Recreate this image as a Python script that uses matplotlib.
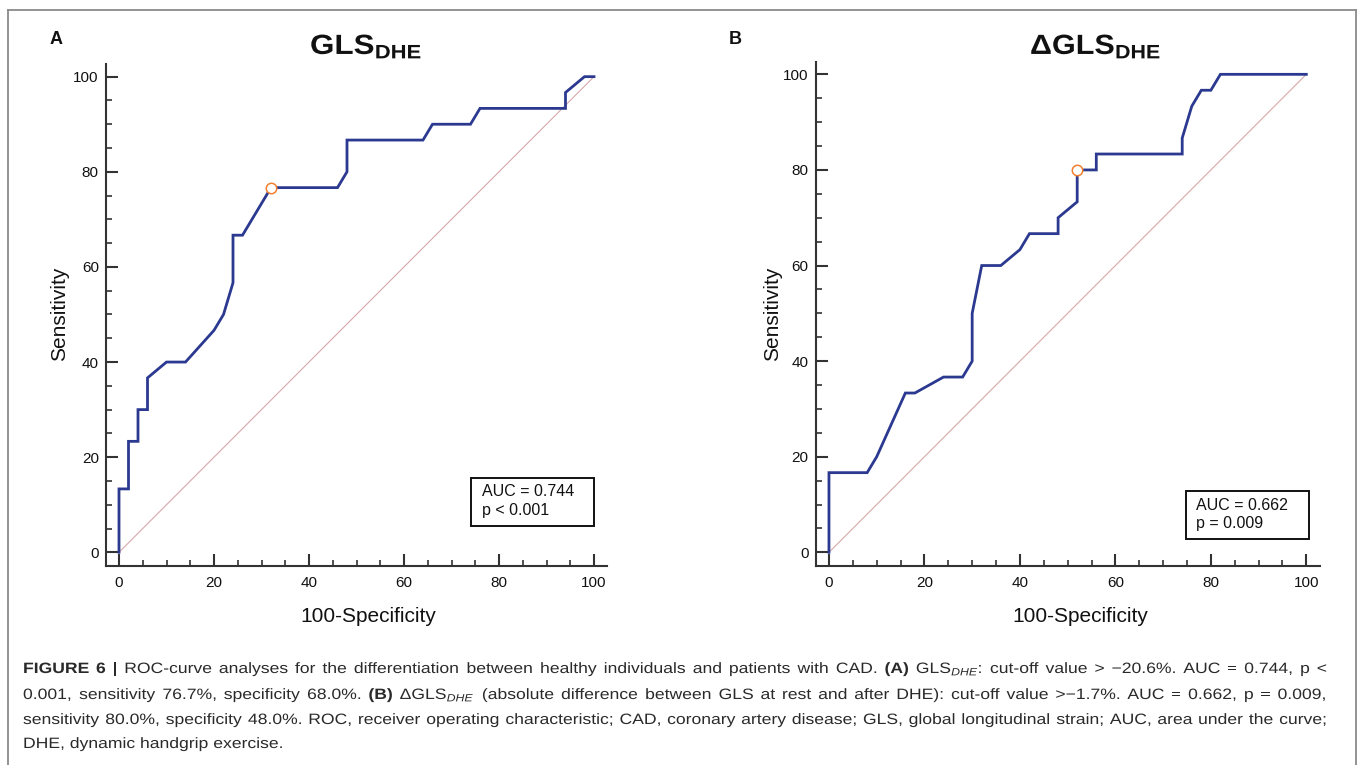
import matplotlib
matplotlib.use("Agg")
import matplotlib.pyplot as plt
from matplotlib.lines import Line2D
from matplotlib.patches import Rectangle
from matplotlib.ticker import MultipleLocator
from matplotlib.patheffects import AbstractPathEffect
from matplotlib.transforms import Affine2D

plt.rcParams['font.family'] = ['Liberation Sans', 'DejaVu Sans']
plt.rcParams['mathtext.fontset'] = 'custom'
plt.rcParams['mathtext.rm'] = 'Liberation Sans'
plt.rcParams['mathtext.it'] = 'Liberation Sans:italic'
plt.rcParams['mathtext.bf'] = 'Liberation Sans:bold'

# ---------------- data ----------------
a_fpr = [0, 0, 2, 2, 4, 4, 6, 6, 10, 14, 20, 22, 24, 24, 26, 32, 46, 48, 48,
         64, 66, 74, 76, 94, 94, 98, 100]
a_tpr = [0, 13.33, 13.33, 23.33, 23.33, 30, 30, 36.67, 40, 40, 46.67, 50,
         56.67, 66.67, 66.67, 76.67, 76.67, 80, 86.67, 86.67, 90, 90, 93.33,
         93.33, 96.67, 100, 100]
a_cut = (32, 76.67)
a_auc_text = ["AUC = 0.744", "p < 0.001"]

b_fpr = [0, 0, 8, 10, 16, 18, 24, 28, 30, 30, 32, 36, 40, 42, 48, 48, 52, 52,
         56, 56, 74, 74, 76, 78, 80, 82, 100]
b_tpr = [0, 16.67, 16.67, 20, 33.33, 33.33, 36.67, 36.67, 40, 50, 60, 60,
         63.33, 66.67, 66.67, 70, 73.33, 80, 80, 83.33, 83.33, 86.67, 93.33,
         96.67, 96.67, 100, 100]
b_cut = (52, 80)
b_auc_text = ["AUC = 0.662", "p = 0.009"]

ref_line = [0, 100]
major_ticks = [0, 20, 40, 60, 80, 100]
tick_labels = ["0", "20", "40", "60", "80", "100"]

caption_lines = [
    [("FIGURE", True), ("6", True), ("|", True), ("ROC-curve", False), ("analyses", False),
     ("for", False), ("the", False), ("differentiation", False), ("between", False),
     ("healthy", False), ("individuals", False), ("and", False), ("patients", False),
     ("with", False), ("CAD.", False), ("(A)", True), ("GLS$_{DHE}$:", False),
     ("cut-off", False), ("value", False), (">", False), ("\u221220.6%.", False),
     ("AUC", False), ("=", False), ("0.744,", False), ("p", False), ("<", False)],
    [("0.001,", False), ("sensitivity", False), ("76.7%,", False), ("specificity", False),
     ("68.0%.", False), ("(B)", True), ("\u0394GLS$_{DHE}$", False), ("(absolute", False),
     ("difference", False), ("between", False), ("GLS", False), ("at", False), ("rest", False),
     ("and", False), ("after", False), ("DHE):", False), ("cut-off", False), ("value", False),
     (">\u22121.7%.", False), ("AUC", False), ("=", False), ("0.662,", False), ("p", False),
     ("=", False), ("0.009,", False)],
    [("sensitivity", False), ("80.0%,", False), ("specificity", False), ("48.0%.", False),
     ("ROC,", False), ("receiver", False), ("operating", False), ("characteristic;", False),
     ("CAD,", False), ("coronary", False), ("artery", False), ("disease;", False),
     ("GLS,", False), ("global", False), ("longitudinal", False), ("strain;", False),
     ("AUC,", False), ("area", False), ("under", False), ("the", False), ("curve;", False)],
    [("DHE,", False), ("dynamic", False), ("handgrip", False), ("exercise.", False)],
]

# ---------------- figure ----------------
W, H = 1360, 765
fig = plt.figure(figsize=(W / 100, H / 100), dpi=100)
fig.patch.set_facecolor("white")

NAVY = "#2b3990"
DIAG = "#d8a8a8"
ORANGE = "#f08030"
AXC = "#333333"


class HStretch(AbstractPathEffect):
    """Stretch a text path horizontally around its left edge."""

    def __init__(self, sx):
        super().__init__()
        self.sx = sx

    def draw_path(self, renderer, gc, tpath, affine, rgbFace=None):
        verts = affine.transform(tpath.vertices)
        x0 = verts[:, 0].min() if len(verts) else 0.0
        aff = affine + Affine2D().translate(-x0, 0).scale(self.sx, 1.0).translate(x0, 0)
        renderer.draw_path(gc, tpath, aff, rgbFace)


def px_axes(x0, x1, y0, y1):
    return fig.add_axes([x0 / W, 1 - y1 / H, (x1 - x0) / W, (y1 - y0) / H])


def setup(ax):
    ax.set_xlim(-2.8, 102.8)
    ax.set_ylim(-2.9, 102.6)
    for s in ["top", "right"]:
        ax.spines[s].set_visible(False)
    for s in ["left", "bottom"]:
        ax.spines[s].set_linewidth(1.5)
        ax.spines[s].set_color(AXC)
    ax.set_xticks(major_ticks)
    ax.set_xticklabels(tick_labels)
    ax.set_yticks(major_ticks)
    ax.set_yticklabels(tick_labels)
    ax.xaxis.set_minor_locator(MultipleLocator(5))
    ax.yaxis.set_minor_locator(MultipleLocator(5))
    ax.tick_params(which="major", direction="in", length=8.5, width=1.5,
                   color=AXC, labelsize=11, labelcolor="#111111")
    ax.tick_params(which="minor", direction="in", length=4.5, width=1.2, color=AXC)
    ax.tick_params(axis="x", which="major", pad=7)
    ax.tick_params(axis="y", which="major", pad=5)
    ax.set_facecolor("none")


def panel(ax, fpr, tpr, cut, auc_text, box, text_xy):
    setup(ax)
    ax.plot(ref_line, ref_line, color=DIAG, lw=0.8, zorder=1)
    ax.plot(fpr, tpr, color=NAVY, lw=2.0, zorder=2, solid_joinstyle="miter")
    ax.plot([cut[0]], [cut[1]], "o", ms=7.5, mfc="white", mec=ORANGE, mew=1.1, zorder=3)
    bx0, bx1, by0, by1 = box
    ax.add_patch(Rectangle((bx0, by0), bx1 - bx0, by1 - by0, fill=False,
                           ec="#111111", lw=1.4, clip_on=False, zorder=4))
    tx, ty1, ty2 = text_xy
    ax.text(tx, ty1, auc_text[0], fontsize=11.5, va="center", ha="left", color="#111111")
    ax.text(tx, ty2, auc_text[1], fontsize=11.5, va="center", ha="left", color="#111111")


axA = px_axes(105.7, 607.3, 64.3, 566.1)
panel(axA, a_fpr, a_tpr, a_cut, a_auc_text, (74.1, 100.0, 5.5, 15.6), (76.4, 12.7, 8.7))

axB = px_axes(815.6, 1319.7, 61.9, 566.2)
panel(axB, b_fpr, b_tpr, b_cut, b_auc_text, (74.7, 100.6, 2.8, 12.8), (76.9, 9.9, 6.1))

# axis labels
for x in (60, 773):
    fig.text(x / W, 1 - 314 / H, "Sensitivity", rotation=90, fontsize=15,
             ha="center", va="center", color="#111111")
for x in (368, 1080):
    fig.text(x / W, 1 - 616 / H, "100-Specificity", fontsize=15,
             ha="center", va="center", color="#111111")

# titles and panel letters
fig.text(310 / W, 1 - 54 / H, "$\\mathbf{GLS}_{\\mathbf{DHE}}$", fontsize=20,
         ha="left", va="baseline", color="#111111", path_effects=[HStretch(1.13)])
fig.text(1030 / W, 1 - 54 / H, "$\\mathbf{\u0394GLS}_{\\mathbf{DHE}}$", fontsize=20,
         ha="left", va="baseline", color="#111111", path_effects=[HStretch(1.1)])
fig.text(56 / W, 1 - 39 / H, "A", fontsize=13, fontweight="bold",
         ha="center", va="center", color="#111111")
fig.text(735 / W, 1 - 40 / H, "B", fontsize=13, fontweight="bold",
         ha="center", va="center", color="#111111")

# frame
FR = "#8a8a8a"
for xs, ys in [([8, 8], [10, 765]), ([8, 1356], [10, 10]), ([1356, 1356], [10, 765])]:
    fig.add_artist(Line2D([x / W for x in xs], [1 - y / H for y in ys],
                          color=FR, lw=1.3, transform=fig.transFigure))

# caption (justified lines, slightly wide-set face)
CAP_FS = 10.8
CAP_SX = 1.17
CAP_C = "#2a2a2a"
X0, X1 = 23, 1327
baselines = [673, 699, 724, 748]
renderer = fig.canvas.get_renderer()
space_t = fig.text(0, 0, "a a", fontsize=CAP_FS)
aa_t = fig.text(0, 0, "aa", fontsize=CAP_FS)
space_w = (space_t.get_window_extent(renderer).width
           - aa_t.get_window_extent(renderer).width) * CAP_SX
space_t.remove()
aa_t.remove()
for li, (words, yb) in enumerate(zip(caption_lines, baselines)):
    texts = []
    for w, bold in words:
        t = fig.text(0, 1 - yb / H, w, fontsize=CAP_FS,
                     fontweight="bold" if bold else "normal",
                     ha="left", va="baseline", color=CAP_C,
                     path_effects=[HStretch(CAP_SX)])
        texts.append(t)
    widths = [t.get_window_extent(renderer).width * CAP_SX for t in texts]
    if li < len(caption_lines) - 1:
        gap = (X1 - X0 - sum(widths)) / (len(texts) - 1)
        gap = max(gap, space_w * 0.8)
    else:
        gap = space_w
    x = X0
    for t, wd in zip(texts, widths):
        t.set_x(x / W)
        x += wd + gap

fig.savefig("out.png", dpi=100, facecolor="white")
